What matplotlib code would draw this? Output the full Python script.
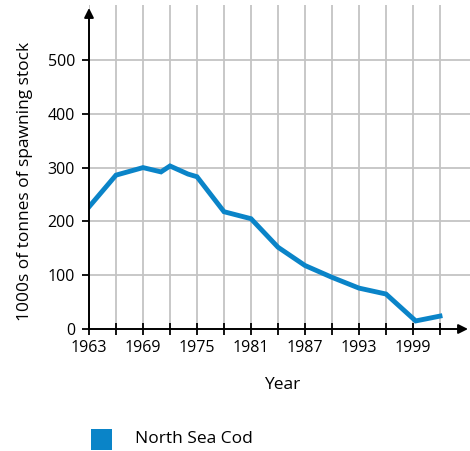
import matplotlib
matplotlib.use("Agg")
import matplotlib.pyplot as plt
from matplotlib.patches import Rectangle

years = [1963, 1966, 1969, 1971, 1972, 1974, 1975, 1978, 1981, 1984, 1987, 1990, 1993, 1996, 1999.3, 2002]
stock = [227, 286, 300, 292, 303, 288, 283, 218, 205, 152, 118, 96, 76, 65, 15, 24]
xticks = [1963, 1969, 1975, 1981, 1987, 1993, 1999]
minor_xticks = list(range(1963, 2003, 3))
yticks = [0, 100, 200, 300, 400, 500]
series_name = "North Sea Cod"

plt.rcParams['font.family'] = ['Open Sans', 'DejaVu Sans']
line_color = "#0a84c8"
grid_color = "#c4c4c4"

fig = plt.figure(figsize=(4.70, 4.51), dpi=100)
ax = fig.add_axes([89/470, 122/451, 381/470, 324/451])
ax.set_xlim(1963, 1963 + 381/9)
ax.set_ylim(0, 324/0.538)

for x in minor_xticks:
    ax.axvline(x, color=grid_color, lw=1.3, zorder=1)
for y in yticks[1:]:
    ax.axhline(y, color=grid_color, lw=1.3, zorder=1)

ax.plot(years, stock, color=line_color, lw=3.5, solid_joinstyle='miter', zorder=3)

for s in ax.spines.values():
    s.set_visible(False)
# axes with arrows
ax.annotate("", xy=(0, 321/324), xytext=(0, 0), xycoords='axes fraction',
            arrowprops=dict(arrowstyle='-|>', color='black', lw=1.4, mutation_scale=14, shrinkA=0, shrinkB=0), zorder=4)
ax.annotate("", xy=(379/381, 0), xytext=(0, 0), xycoords='axes fraction',
            arrowprops=dict(arrowstyle='-|>', color='black', lw=1.4, mutation_scale=14, shrinkA=0, shrinkB=0), zorder=4)

ax.set_xticks(minor_xticks)
ax.set_xticklabels([str(x) if x in xticks else "" for x in minor_xticks])
ax.set_yticks(yticks)
ax.set_yticklabels([str(y) for y in yticks])
ax.tick_params(axis='x', direction='inout', length=8, width=1.3, labelsize=11.5, pad=4, colors='black')
ax.tick_params(axis='y', direction='out', length=5, width=1.3, labelsize=11.5, pad=5, colors='black')

fig.text(282/470, (451-389)/451, "Year", fontsize=12.5, ha='center', va='baseline')
fig.text(25/470, (451-181)/451, "1000s of tonnes of spawning stock", fontsize=12.5,
         rotation=90, ha='center', va='center')

# legend
fig.patches.append(Rectangle((91/470, (451-450)/451), 21/470, 21/451, transform=fig.transFigure,
                             facecolor=line_color, edgecolor='none'))
fig.text(135/470, (451-439)/451, series_name, fontsize=12.5, va='center', ha='left')

fig.savefig("out.png", dpi=100)
